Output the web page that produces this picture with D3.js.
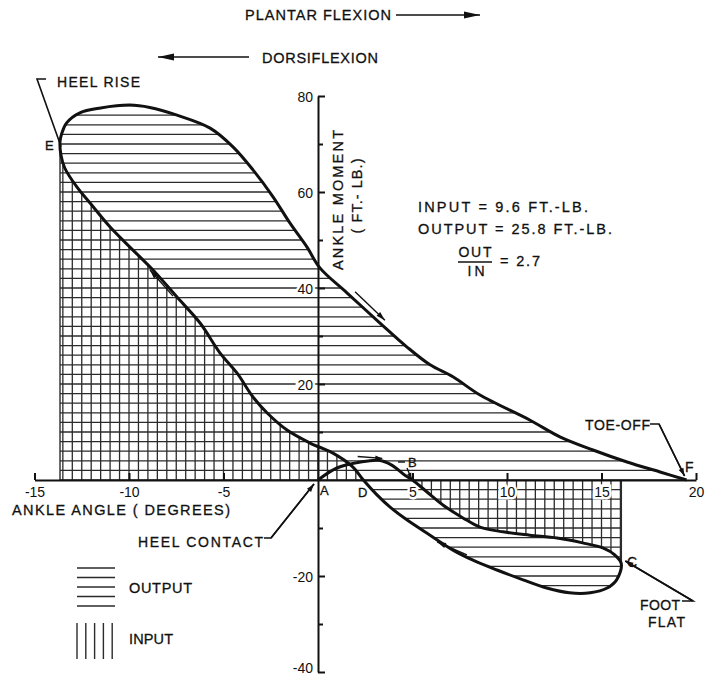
<!DOCTYPE html>
<html>
<head>
<meta charset="utf-8">
<script src="https://cdn.jsdelivr.net/npm/d3@7"></script>
<style>
  html, body { margin: 0; padding: 0; background: #fff; }
  svg { display: block; font-family: "Liberation Sans", Arial, sans-serif; }
</style>
</head>
<body>
<div id="chart"></div>
<script>
// ankle angle (deg) vs ankle moment (ft-lb)
const heelContactToB = [[0, 0], [1, 2.5], [2.2, 3.7], [3.2, 4.1], [3.9, 3.1], [4.6, 1], [5, 0]];
const bToFootFlat = [[5, 0], [5.77, -2.5], [6.61, -5.2], [7.67, -7.9], [8.57, -9.8], [9.79, -10.8],
  [11.2, -11.5], [12.65, -12.1], [14, -13.1], [15.1, -14.2], [15.7, -15.6], [16.05, -17.5]];
const footFlatToD = [[16.05, -17.5], [15.8, -20.8], [15.3, -22.5], [14.4, -23.5], [13.3, -23.5],
  [12.1, -22.5], [10.85, -20.8], [9.47, -18.75], [8.2, -16.7], [7.14, -14.6], [5.93, -11.5],
  [4.7, -8.3], [3.8, -5.6], [3.12, -3.1], [2.4, 0]];
const dToHeelRise = [[2.4, 0], [1.85, 2.7], [0.79, 5.6], [-0.42, 7.7], [-1.64, 10.4], [-2.7, 14],
  [-3.44, 17.3], [-4.29, 22.3], [-5.19, 26.5], [-6.24, 32.7], [-7.46, 38.1], [-8.73, 43.75],
  [-9.79, 47.9], [-11, 52.7], [-12.06, 57.7], [-12.75, 61], [-13.4, 65], [-13.6, 67.7], [-13.65, 70.5]];
const heelRiseToToeOff = [[-13.65, 70.5], [-13.55, 72.3], [-13.3, 74.4], [-12.6, 76.5], [-11.5, 77.5],
  [-9.95, 78.1], [-8.9, 77.6], [-7.46, 76], [-5.71, 73.3], [-4.5, 69.4], [-3.44, 64.6], [-2.38, 59],
  [-1.48, 53.5], [-0.58, 48.5], [0.1, 44.2], [1.53, 39], [3.28, 32.7], [4.71, 27.7], [5.93, 24],
  [7.14, 21.5], [8.57, 17.7], [11.2, 12.5], [12.8, 9], [14.55, 6.25], [16.35, 3.75], [18.1, 1.67], [19.5, 0]];

const xTicks = [-15, -10, -5, 5, 10, 15, 20];
const yTicks = [80, 60, 40, 20, -20, -40];
const yMinorTicks = [70, 50, 30, 10, -10, -30];

const W = 714, H = 676;
const ink = "#111";
const hatch = "#2b2b2b";

const svg = d3.select("#chart").append("svg").attr("width", W).attr("height", H);

const x = d3.scaleLinear().domain([-15, 20]).range([34.5, 696]);
const y = d3.scaleLinear().domain([-40, 80]).range([672, 96]);

const line = d3.line()
  .x(d => x(d[0]))
  .y(d => y(d[1]))
  .curve(d3.curveCatmullRom.alpha(0.5));

const E = heelRiseToToeOff[0];
const C = bToFootFlat[bToFootFlat.length - 1];

// clip regions for the hatching
const defs = svg.append("defs");
const input1 = line(dToHeelRise.slice().reverse()) + `L${x(E[0])},${y(0)}Z`;
const input2 = line(bToFootFlat) + `L${x(C[0])},${y(0)}Z`;
const output1 = line(dToHeelRise.concat(heelRiseToToeOff.slice(1))) + "Z";
const output2 = line(bToFootFlat.concat(footFlatToD.slice(1))) + "Z";

const outClip = defs.append("clipPath").attr("id", "outClip");
[output1, output2, input1, input2].forEach(d => outClip.append("path").attr("d", d));
const inClip = defs.append("clipPath").attr("id", "inClip");
[input1, input2].forEach(d => inClip.append("path").attr("d", d));

// horizontal hatching = output (also part of the grid)
svg.append("g")
  .attr("clip-path", "url(#outClip)")
  .selectAll("line")
  .data(d3.range(-24, 79, 2))
  .join("line")
  .attr("x1", x(-14.5)).attr("x2", x(20))
  .attr("y1", d => y(d)).attr("y2", d => y(d))
  .attr("stroke", hatch).attr("stroke-width", 1.3);

// vertical hatching = input
svg.append("g")
  .attr("clip-path", "url(#inClip)")
  .selectAll("line")
  .data(d3.range(-13.5, 16.01, 0.5))
  .join("line")
  .attr("x1", d => x(d)).attr("x2", d => x(d))
  .attr("y1", y(80)).attr("y2", y(-25))
  .attr("stroke", hatch).attr("stroke-width", 1.3);

// edges of the input areas
svg.append("line")
  .attr("x1", x(E[0])).attr("x2", x(E[0])).attr("y1", y(0)).attr("y2", y(E[1]))
  .attr("stroke", hatch).attr("stroke-width", 1.4);
svg.append("line")
  .attr("x1", x(C[0])).attr("x2", x(C[0])).attr("y1", y(0)).attr("y2", y(C[1]))
  .attr("stroke", hatch).attr("stroke-width", 1.4);

// axes
const xAxis = svg.append("g")
  .attr("transform", `translate(0,${y(0)})`)
  .call(d3.axisBottom(x).tickValues(xTicks).tickSizeInner(-7).tickSizeOuter(0)
    .tickPadding(7).tickFormat(d => String(d)));
const yAxis = svg.append("g")
  .attr("transform", `translate(${x(0)},0)`)
  .call(d3.axisLeft(y).tickValues(yTicks).tickSizeInner(-7).tickSizeOuter(0)
    .tickPadding(5).tickFormat(d => String(d)));
const yMinor = svg.append("g")
  .attr("transform", `translate(${x(0)},0)`)
  .call(d3.axisLeft(y).tickValues(yMinorTicks).tickSizeInner(-5).tickSizeOuter(0).tickFormat(""));
yMinor.select(".domain").remove();

[xAxis, yAxis, yMinor].forEach(g => {
  g.selectAll(".domain").attr("stroke", ink).attr("stroke-width", 2);
  g.selectAll(".tick line").attr("stroke", ink).attr("stroke-width", 2);
  g.selectAll("text")
    .attr("fill", ink)
    .style("font-size", "14px")
    .style("font-family", "'Liberation Sans', Arial, sans-serif")
    .attr("stroke", "#fff").attr("stroke-width", 5)
    .style("paint-order", "stroke");
});
// the bottom label sits right at the page edge
yAxis.selectAll("text").attr("dy", d => d === -40 ? "0.05em" : "0.36em");

// the work loop
const loop = heelContactToB
  .concat(bToFootFlat.slice(1))
  .concat(footFlatToD.slice(1))
  .concat(dToHeelRise.slice(1))
  .concat(heelRiseToToeOff.slice(1));
svg.append("path")
  .attr("d", line(loop))
  .attr("fill", "none")
  .attr("stroke", ink)
  .attr("stroke-width", 3)
  .attr("stroke-linejoin", "round");

// arrows
function arrow(x1, y1, x2, y2, len = 10, half = 3.5, sw = 1.6) {
  svg.append("line")
    .attr("x1", x1).attr("y1", y1).attr("x2", x2).attr("y2", y2)
    .attr("stroke", ink).attr("stroke-width", sw);
  const a = Math.atan2(y2 - y1, x2 - x1);
  const bx = x2 - len * Math.cos(a), by = y2 - len * Math.sin(a);
  const p = [[x2, y2],
    [bx + half * Math.sin(a), by - half * Math.cos(a)],
    [bx - half * Math.sin(a), by + half * Math.cos(a)]];
  svg.append("path").attr("d", "M" + p.join("L") + "Z").attr("fill", ink);
}
function leader(pts, withHead) {
  svg.append("path")
    .attr("d", "M" + pts.join("L"))
    .attr("fill", "none").attr("stroke", ink).attr("stroke-width", 1.6);
  if (withHead) {
    const n = pts.length;
    arrow(pts[n - 2][0], pts[n - 2][1], pts[n - 1][0], pts[n - 1][1], 8, 2.6, 1.6);
  }
}

// direction arrows beside the loop
arrow(x(1.96), y(39.2), x(3.54), y(33.3), 9, 2.6, 1.4);
arrow(x(-7.67), y(38.3), x(-8.89), y(43.75), 9, 2.6, 1.4);
arrow(x(7.88), y(-15.6), x(6.3), y(-12.9), 9, 2.6, 1.4);
arrow(x(2.1), y(4.9), x(3.4), y(4.5), 7, 2.4, 1.4);

// hand-lettered look: a hair of ink stroke on the labels
function label(txt, tx, ty, size, len, anchor) {
  const t = svg.append("text")
    .attr("x", tx).attr("y", ty)
    .attr("fill", ink)
    .attr("stroke", ink).attr("stroke-width", 0.3)
    .style("font-size", size + "px")
    .attr("text-anchor", anchor || "start")
    .text(txt);
  if (len) t.attr("textLength", len).attr("lengthAdjust", "spacing");
  return t;
}

label("PLANTAR FLEXION", 245, 20, 14.5, 146);
arrow(396, 15, 480, 15, 16, 3.5, 1.6);
label("DORSIFLEXION", 262, 63, 14.5, 116);
arrow(249, 57, 158, 57, 16, 3.5, 1.6);

// event labels
label("HEEL RISE", 57, 87, 14, 83);
leader([[46, 79], [37, 79], [x(E[0]) + 1, y(E[1]) + 5]], false);
label("E", 45, 150, 13);

label("TOE-OFF", 585, 430, 14, 65);
leader([[650, 424], [659, 424], [x(19.5) - 2, y(0) - 4]], true);
label("F", 685, 472, 14);

label("HEEL CONTACT", 138, 547, 14, 125);
leader([[264, 538], [271, 538], [x(0) - 4, y(0) + 4]], true);
label("A", 320, 495, 13);
label("D", 358, 497, 13);

label("B", 408, 467, 13);
svg.append("line").attr("x1", 398).attr("x2", 405).attr("y1", 462).attr("y2", 462)
  .attr("stroke", ink).attr("stroke-width", 1.4);
arrow(407, 468, x(5) - 1, y(0) - 1, 6, 2.2, 1.4);

label("C", 627, 567, 14);
label("FOOT", 640, 610, 14, 40);
label("FLAT", 648, 627, 14, 37);
leader([[682, 601], [693, 601], [x(C[0]) + 4, y(C[1]) - 3]], true);

// axis titles
label("ANKLE ANGLE ( DEGREES)", 12, 515, 14.5, 218);
svg.append("text")
  .attr("transform", `translate(343,200) rotate(-90)`)
  .attr("text-anchor", "middle")
  .attr("fill", ink).attr("stroke", ink).attr("stroke-width", 0.3)
  .style("font-size", "14.5px")
  .attr("textLength", 140).attr("lengthAdjust", "spacing")
  .text("ANKLE MOMENT");
svg.append("text")
  .attr("transform", `translate(362,196) rotate(-90)`)
  .attr("text-anchor", "middle")
  .attr("fill", ink).attr("stroke", ink).attr("stroke-width", 0.3)
  .style("font-size", "14.5px")
  .attr("textLength", 75).attr("lengthAdjust", "spacing")
  .text("( FT.- LB.)");

// work summary
label("INPUT = 9.6 FT.-LB.", 418, 212, 14.5, 170);
label("OUTPUT = 25.8 FT.-LB.", 418, 234, 14.5, 194);
label("OUT", 475, 257, 14, 33, "middle");
svg.append("line").attr("x1", 458).attr("x2", 492).attr("y1", 262).attr("y2", 262)
  .attr("stroke", ink).attr("stroke-width", 1.6);
label("IN", 476, 276, 14, 17, "middle");
label("= 2.7", 500, 266, 14.5, 40);

// legend
const legend = svg.append("g");
legend.selectAll("line.h")
  .data(d3.range(5))
  .join("line")
  .attr("class", "h")
  .attr("x1", 77).attr("x2", 115)
  .attr("y1", i => 568 + i * 9.5).attr("y2", i => 568 + i * 9.5)
  .attr("stroke", hatch).attr("stroke-width", 1.4);
legend.selectAll("line.v")
  .data(d3.range(5))
  .join("line")
  .attr("class", "v")
  .attr("x1", i => 77 + i * 8.8).attr("x2", i => 77 + i * 8.8)
  .attr("y1", 623).attr("y2", 659)
  .attr("stroke", hatch).attr("stroke-width", 1.4);
label("OUTPUT", 129, 593, 14.5, 63);
label("INPUT", 129, 644, 14.5, 44);
</script>
</body>
</html>
